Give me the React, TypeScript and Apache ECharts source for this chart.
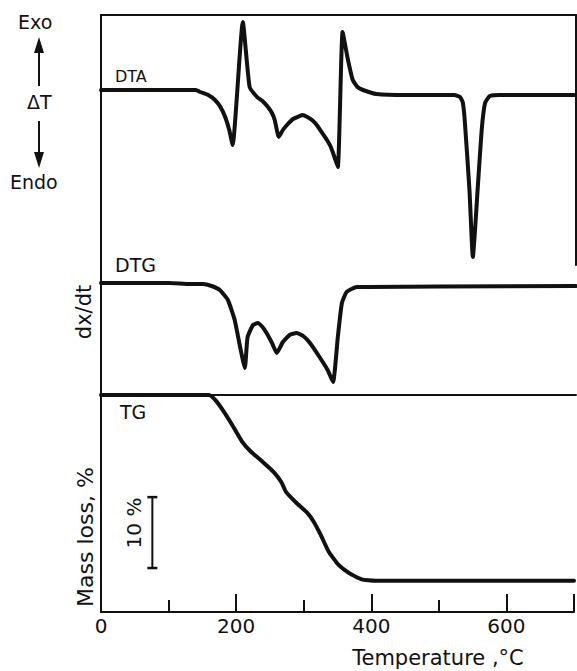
import React, { useEffect, useRef } from "react";
import * as echarts from "echarts";

// Temperature (°C) and DTA signal (arbitrary ΔT units, exo up)
const dtaT = [0, 100, 140, 146, 158, 168, 176, 183, 189, 194, 209, 219, 230, 238, 246, 252, 256, 262, 268, 274, 283, 293, 297, 304, 311, 318, 326, 333, 338, 342, 349, 356, 364, 371, 378, 386, 406, 450, 500, 521, 529, 533, 536, 543, 548, 555, 561, 566, 573, 588, 640, 700];
const dtaV = [0, 0, 0, -0.2, -0.5, -1.0, -1.7, -2.7, -4.0, -5.5, 6.8, 0.3, -0.7, -1.1, -1.7, -2.3, -3.0, -4.7, -4.0, -3.5, -2.9, -2.6, -2.5, -2.7, -3.0, -3.5, -4.3, -5.0, -5.6, -6.3, -7.7, 5.8, 3.0, 1.0, 0.3, 0.0, -0.4, -0.5, -0.5, -0.5, -0.7, -1.2, -3.0, -10.0, -16.7, -10.0, -4.0, -1.3, -0.6, -0.5, -0.5, -0.5];

// DTG signal (dx/dt, arbitrary units)
const dtgT = [0, 100, 131, 150, 163, 175, 187, 197, 205, 212, 216, 224, 231, 238, 244, 252, 259, 268, 278, 288, 298, 308, 322, 334, 342, 349, 355, 362, 377, 392, 500, 700];
const dtgV = [0, 0, -0.1, -0.1, -0.3, -0.7, -1.7, -3.7, -6.4, -8.5, -5.4, -4.2, -4.0, -4.4, -5.0, -6.0, -7.0, -5.9, -5.2, -5.0, -5.3, -6.0, -7.4, -8.7, -9.9, -5.4, -2.0, -0.9, -0.4, -0.4, -0.35, -0.3];

// TG: remaining mass (%)
const tgT = [0, 100, 160, 170, 180, 194, 209, 222, 239, 256, 267, 274, 289, 305, 315, 325, 337, 352, 367, 386, 406, 500, 700];
const tgV = [100, 100, 100, 99.2, 97.9, 95.8, 93.4, 92.0, 90.6, 89.1, 87.7, 86.3, 84.8, 83.4, 82.1, 80.3, 77.9, 76.0, 74.9, 74.0, 73.8, 73.8, 73.8];

// 10 % scale bar
const scaleBarT = [76, 76];
const scaleBarV = [85.6, 75.6];

const xMajorTicks = [0, 200, 400, 600];

const FONT = "DejaVu Sans";
const INK = "#111";

export default function App() {
  const ref = useRef<HTMLDivElement>(null);
  useEffect(() => {
    if (!ref.current) return;
    const chart = echarts.init(ref.current, null, { renderer: "svg" });
    const pair = (a: number[], b: number[]) => a.map((t, i) => [t, b[i]]);
    const hiddenX = (gridIndex: number, position: string) => ({
      type: "value", gridIndex, position, min: 0, max: 700,
      axisLine: { show: true, onZero: false, lineStyle: { color: INK, width: 2 } },
      axisTick: { show: false }, axisLabel: { show: false }, splitLine: { show: false },
    });
    const yBase = (gridIndex: number, min: number, max: number, position = "left") => ({
      type: "value", gridIndex, min, max, position,
      axisLine: { show: true, onZero: false, lineStyle: { color: INK, width: 2 } },
      axisTick: { show: false }, axisLabel: { show: false }, splitLine: { show: false },
    });
    const curve = { type: "line", showSymbol: false, clip: false, smooth: 0.15, lineStyle: { color: INK, width: 4, join: "round", cap: "round" } };
    chart.setOption({
      animation: false,
      backgroundColor: "#fff",
      grid: [
        { left: 101, right: 1, top: 15, height: 250 },
        { left: 101, right: 1, top: 265, height: 130 },
        { left: 101, right: 1, top: 395, height: 217 },
      ],
      xAxis: [
        hiddenX(0, "top"),
        hiddenX(1, "bottom"),
        {
          type: "value", gridIndex: 2, position: "bottom", min: 0, max: 700, interval: 100,
          axisLine: { show: true, onZero: false, lineStyle: { color: INK, width: 2 } },
          axisTick: { show: true, inside: true, length: 12, lineStyle: { color: INK, width: 2 } },
          axisLabel: { show: false }, splitLine: { show: false },
        },
        {
          type: "value", gridIndex: 2, position: "bottom", min: 0, max: 700, interval: 200,
          axisLine: { show: false, onZero: false },
          axisTick: { show: true, inside: true, length: 18, lineStyle: { color: INK, width: 2 } },
          axisLabel: {
            show: true, margin: 4, color: INK, fontFamily: FONT, fontSize: 20,
            formatter: (v: number) => (xMajorTicks.includes(v) ? String(v) : ""),
          },
          splitLine: { show: false },
        },
      ],
      yAxis: [
        yBase(0, -17.5, 7.5),
        yBase(0, -17.5, 7.5, "right"),
        yBase(1, -11.2, 1.8),
        yBase(2, 69.4, 100),
      ],
      series: [
        { ...curve, name: "DTA", xAxisIndex: 0, yAxisIndex: 0, data: pair(dtaT, dtaV) },
        { ...curve, name: "DTG", xAxisIndex: 1, yAxisIndex: 2, data: pair(dtgT, dtgV) },
        { ...curve, name: "TG", xAxisIndex: 2, yAxisIndex: 3, data: pair(tgT, tgV) },
        {
          type: "line", name: "scale", xAxisIndex: 2, yAxisIndex: 3, smooth: false,
          showSymbol: true, symbol: "rect", symbolSize: [10, 2.5],
          itemStyle: { color: INK }, lineStyle: { color: INK, width: 2 },
          data: pair(scaleBarT, scaleBarV),
        },
      ],
      graphic: [
        { type: "text", left: 18, top: 12, style: { text: "Exo", font: `19px '${FONT}'`, fill: INK } },
        { type: "polygon", shape: { points: [[39, 37], [34, 53], [44, 53]] }, style: { fill: INK } },
        { type: "line", shape: { x1: 39, y1: 52, x2: 39, y2: 86 }, style: { stroke: INK, lineWidth: 2 } },
        { type: "text", left: 27, top: 92, style: { text: "ΔT", font: `19px '${FONT}'`, fill: INK } },
        { type: "line", shape: { x1: 39, y1: 121, x2: 39, y2: 154 }, style: { stroke: INK, lineWidth: 2 } },
        { type: "polygon", shape: { points: [[34, 152], [44, 152], [39, 168]] }, style: { fill: INK } },
        { type: "text", left: 10, top: 172, style: { text: "Endo", font: `19px '${FONT}'`, fill: INK } },
        { type: "text", left: 115, top: 68, style: { text: "DTA", font: `16px '${FONT}'`, fill: INK } },
        { type: "text", left: 115, top: 255, style: { text: "DTG", font: `19px '${FONT}'`, fill: INK } },
        { type: "text", left: 120, top: 402, style: { text: "TG", font: `19px '${FONT}'`, fill: INK } },
        { type: "text", x: 84, y: 312, rotation: Math.PI / 2, style: { text: "dx/dt", font: `21px '${FONT}'`, fill: INK, align: "center", verticalAlign: "middle" } },
        { type: "text", x: 85, y: 537, rotation: Math.PI / 2, style: { text: "Mass loss, %", font: `22px '${FONT}'`, fill: INK, align: "center", verticalAlign: "middle" } },
        { type: "text", x: 134, y: 523, rotation: Math.PI / 2, style: { text: "10 %", font: `20px '${FONT}'`, fill: INK, align: "center", verticalAlign: "middle" } },
        { type: "text", x: 438, y: 658, style: { text: "Temperature ,°C", font: `21px '${FONT}'`, fill: INK, align: "center", verticalAlign: "middle" } },
      ],
    });
    return () => chart.dispose();
  }, []);
  return <div ref={ref} style={{ position: "fixed", left: 0, top: 0, width: 577, height: 671 }} />;
}
